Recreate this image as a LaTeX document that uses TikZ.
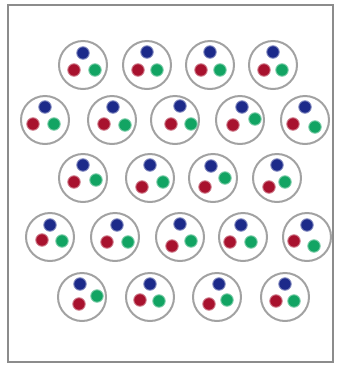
\documentclass[tikz,border=0pt]{standalone}
\usepackage{tikz}
\definecolor{QBlue}{HTML}{1C2A8A}
\definecolor{QRed}{HTML}{A8122E}
\definecolor{QGreen}{HTML}{12A463}
\definecolor{QShell}{HTML}{A2A2A2}
\definecolor{QFrame}{HTML}{8C8C8C}

\begin{document}
\begin{tikzpicture}[
 x=1pt,y=-1pt,
 shell/.style={circle,draw=QShell,line width=2pt,fill=white,minimum size=48pt,inner sep=0pt},
 quark/.style={circle,minimum size=12.5pt,inner sep=0pt,line width=0.9pt},
 frame/.style={draw=QFrame,line width=1.8pt}
]
\useasboundingbox (0,0) rectangle (341,365);
\draw[frame] (8,5) rectangle (333,362);
% shells: name/x/y, then offsets of blue, red, green
\foreach \n/\x/\y/\bx/\by/\rx/\ry/\gx/\gy in {
 a1/83/65/0/-12/-9/5/12/5, a2/147/65/0/-13/-9/5/10/5, a3/210/65/0/-13/-9/5/10/5, a4/273/65/0/-13/-9/5/9/5,
 b1/45/120/0/-13/-12/4/9/4, b2/112/120/1/-13/-8/4/13/5, b3/175/120/5/-14/-4/4/16/4, b4/240/120/2/-13/-7/5/15/-1, b5/305/120/0/-13/-12/4/10/7,
 c1/83/178/0/-13/-9/4/13/2, c2/150/178/0/-13/-8/9/13/4, c3/213/178/-2/-12/-8/9/12/0, c4/277/178/0/-13/-8/9/8/4,
 d1/50/237/0/-12/-8/3/12/4, d2/115/237/2/-12/-8/5/13/5, d3/180/237/0/-13/-8/9/11/4, d4/243/237/-2/-12/-13/5/8/5, d5/307/237/0/-12/-13/4/7/9,
 e1/82/297/-2/-13/-3/7/15/-1, e2/150/297/0/-13/-10/3/9/4, e3/217/297/2/-13/-8/7/10/3, e4/285/297/0/-13/-9/4/9/4}{
 \node[shell] (\n) at (\x,\y) {};
 \node[quark,fill=QBlue,draw=QBlue!55] (\n b) at ([shift={(\bx,\by)}]\n.center) {};
 \node[quark,fill=QRed,draw=QRed!55] (\n r) at ([shift={(\rx,\ry)}]\n.center) {};
 \node[quark,fill=QGreen,draw=QGreen!55] (\n g) at ([shift={(\gx,\gy)}]\n.center) {};
}
\end{tikzpicture}
\end{document}
